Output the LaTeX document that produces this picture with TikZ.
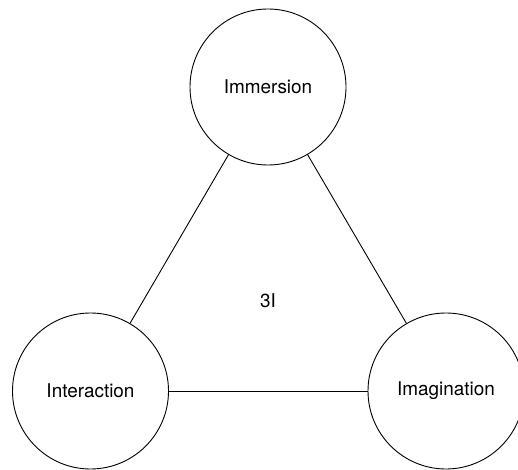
\documentclass[tikz,border=0pt]{standalone}
\usepackage{fontspec}
\setmainfont{TeX Gyre Heros}
\begin{document}
\begin{tikzpicture}[x=1bp,y=-1bp,
  bubble/.style={draw, circle, line width=0.9bp, minimum size=156bp, inner sep=0pt, font=\fontsize{19}{23}\selectfont},
  link/.style={line width=0.9bp}]
\useasboundingbox (0,0) rectangle (518,470);
\node[bubble] (imm) at (268,87) {Immersion};
\node[bubble] (int) at (90.5,391) {Interaction};
\node[bubble] (ima) at (446,391) {Imagination};
\node[font=\fontsize{19}{23}\selectfont] (c) at (268,301) {3I};
\draw[link] (imm) -- (int);
\draw[link] (imm) -- (ima);
\draw[link] (int) -- (ima);
\end{tikzpicture}
\end{document}
